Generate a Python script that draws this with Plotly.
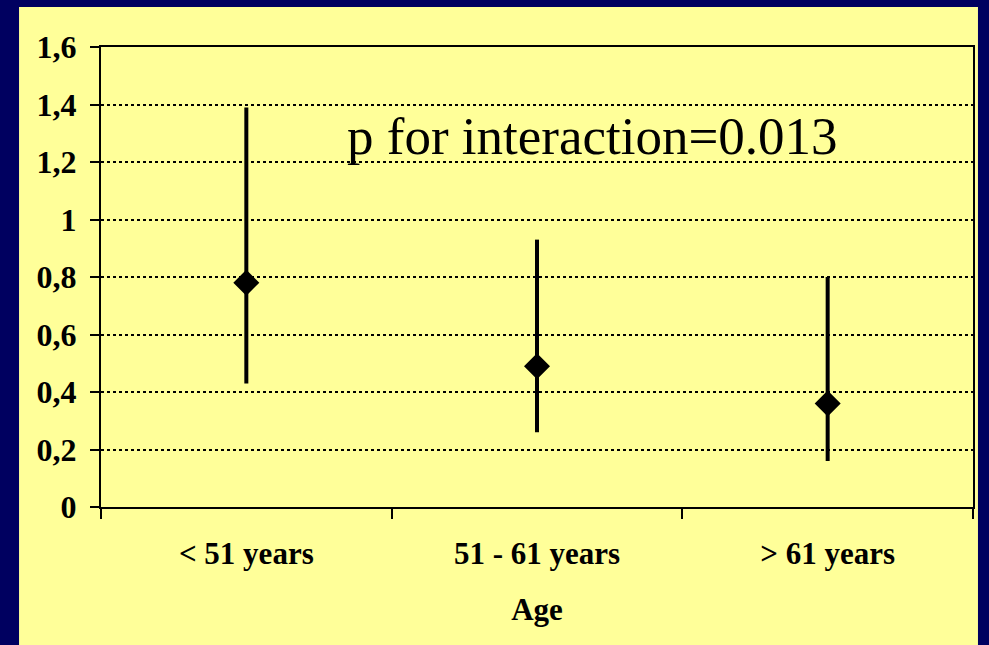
import plotly.graph_objects as go

age_groups = ["< 51 years", "51 - 61 years", "> 61 years"]
estimate = [0.78, 0.49, 0.36]
upper_ci = [1.39, 0.93, 0.80]
lower_ci = [0.43, 0.26, 0.16]
y_ticks = [0, 0.2, 0.4, 0.6, 0.8, 1, 1.2, 1.4, 1.6]
y_tick_labels = ["0", "0,2", "0,4", "0,6", "0,8", "1", "1,2", "1,4", "1,6"]

err_plus = [u - e for u, e in zip(upper_ci, estimate)]
err_minus = [e - l for e, l in zip(estimate, lower_ci)]

yellow = "#FFFF99"
serif = "Liberation Serif"

fig = go.Figure()
fig.add_trace(go.Scatter(
    x=age_groups, y=estimate, mode="markers",
    marker=dict(symbol="diamond", size=20, color="black"),
    error_y=dict(type="data", array=err_plus, arrayminus=err_minus,
                 thickness=4, width=0, color="black"),
    showlegend=False,
))

fig.add_annotation(
    text="p for interaction=0.013", x=0.564, y=1.29, xref="paper", yref="y",
    showarrow=False, font=dict(family=serif, size=53, color="black"),
)

# yellow slide panel behind the chart
fig.add_shape(type="rect", xref="paper", yref="paper",
              x0=-0.094, x1=1.0057, y0=-0.32, y1=1.087,
              fillcolor=yellow, line=dict(width=0), layer="below")

fig.update_layout(
    width=989, height=645,
    margin=dict(l=101, r=16, t=47, b=138),
    paper_bgcolor="#000060",
    plot_bgcolor=yellow,
    font=dict(family=serif, color="black"),
    xaxis=dict(
        range=[-0.5, 2.5], tickson="boundaries", ticks="outside", ticklen=10,
        tickwidth=1.5, tickcolor="black", showgrid=False,
        showline=True, linecolor="black", linewidth=2, mirror=True,
        ticklabelstandoff=18,
        tickfont=dict(size=31, family=serif, weight="bold"),
        title=dict(text="<b>Age</b>", font=dict(size=31, family=serif), standoff=28),
    ),
    yaxis=dict(
        range=[0, 1.6], tickvals=y_ticks, ticktext=y_tick_labels,
        ticks="outside", ticklen=9, tickwidth=1.5, tickcolor="black",
        showgrid=True, gridcolor="black", gridwidth=2, griddash="dot",
        showline=True, linecolor="black", linewidth=2, mirror=True,
        zeroline=False, ticklabelstandoff=7,
        tickfont=dict(size=32, family=serif, weight="bold"),
    ),
)

fig.write_html("out.html", config={"displayModeBar": False},
               post_script="document.body.style.margin='0';")
